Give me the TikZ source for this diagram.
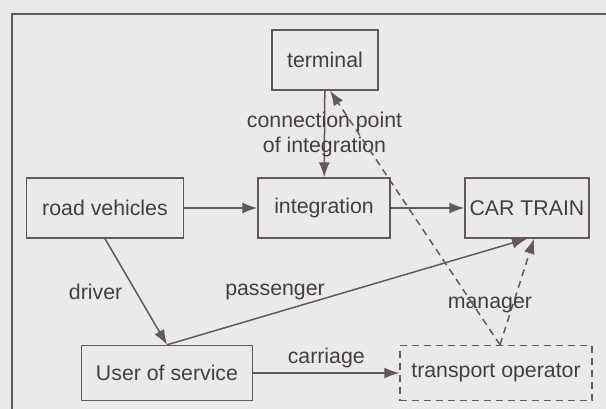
\documentclass[tikz,border=0pt]{standalone}
\usepackage{fontspec}
\setmainfont{Liberation Sans}
\usetikzlibrary{arrows.meta}
\definecolor{bgcol}{RGB}{234,234,234}
\definecolor{linecol}{RGB}{100,88,88}
\definecolor{txtcol}{RGB}{70,62,62}
\tikzstyle{block}=[rectangle, draw=linecol, line width=1.4pt, text=txtcol, minimum height=60pt, inner sep=0pt, font=\fontsize{21.3}{25}\selectfont]
\tikzstyle{dblock}=[block, dash pattern=on 7pt off 5pt]
\tikzstyle{lbl}=[text=txtcol, inner sep=0pt, font=\fontsize{21.3}{25}\selectfont]
\newcommand{\block}{\node[block]}

\begin{document}
\begin{tikzpicture}[x=1pt, y=-1pt
    ,>={Latex[length=15pt,width=11pt]}
    ,every edge/.style={draw=linecol, line width=1.5pt, ->}
]
\useasboundingbox (0,0) rectangle (606,409);
\fill[bgcol] (0,0) rectangle (606,409);
\draw[linecol, line width=1.5pt] (12,430) -- (12,14) -- (630,14);

\block[minimum width=106pt] (term) at (325,60) {terminal};
\block[minimum width=157pt] (road) at (105,208) {road vehicles};
\block[minimum width=132pt] (integ) at (324,208) {integration};
\block[minimum width=124pt] (car) at (527,208) {CAR TRAIN};
\block[minimum width=171pt, minimum height=55pt] (user) at (167,373) {User of service};
\node[dblock, minimum width=192pt, minimum height=55pt] (oper) at (496,373) {transport operator};

\path
(term) edge node[lbl, align=center] {connection point\\of integration} (integ)
(road) edge (integ)
(integ) edge (car)
(road.south) edge node[lbl, left=13pt] {driver} (user.north)
(user.north) edge node[lbl, pos=0.3, above=12pt] {passenger} (car.south)
(user) edge node[lbl, above=4pt] {carriage} (oper)
([xshift=4pt]oper.north) edge[dash pattern=on 7pt off 5pt] node[lbl, pos=0.38, xshift=-23pt] {manager} ([xshift=7pt]car.south)
([xshift=4pt]oper.north) edge[dash pattern=on 7pt off 5pt] ([xshift=5pt]term.south)
;
\end{tikzpicture}
\end{document}
